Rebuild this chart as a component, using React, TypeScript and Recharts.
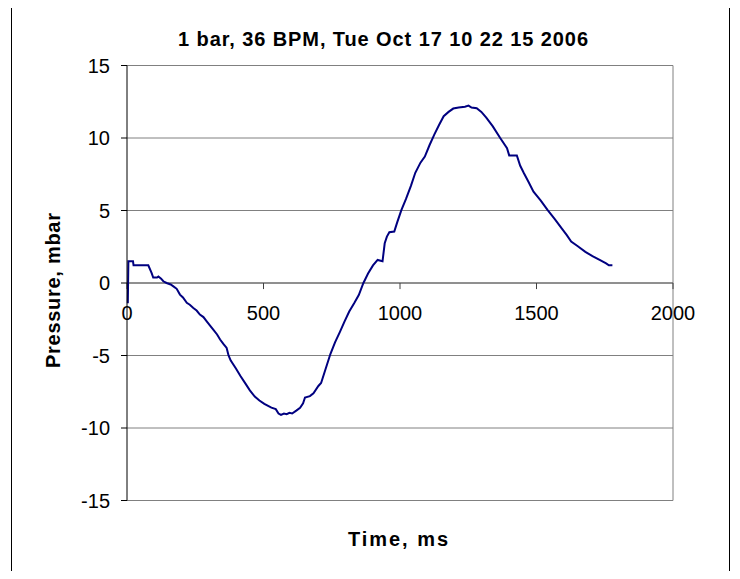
import { CartesianGrid, Line, LineChart, ReferenceLine, XAxis, YAxis } from "recharts";

const times = [
  3, 5, 22, 24, 78, 90, 96, 110, 115, 125, 133, 145, 160, 170, 182, 194, 205, 219, 230, 243,
  255, 267, 280, 292, 305, 316, 330, 341, 353, 365, 372, 380, 399, 415, 434, 450, 468, 485, 503, 529,
  545, 555, 564, 575, 585, 595, 605, 620, 634, 645, 652, 670, 683, 701, 711, 728, 745, 762, 780, 797,
  814, 832, 849, 866, 883, 901, 918, 936, 944, 952, 961, 979, 990, 1005, 1022, 1040, 1056, 1075, 1091, 1108,
  1126, 1143, 1160, 1178, 1195, 1215, 1238, 1251, 1262, 1281, 1298, 1316, 1340, 1367, 1392, 1400, 1428, 1440, 1454, 1470,
  1489, 1515, 1541, 1567, 1593, 1611, 1627, 1650, 1679, 1705, 1733, 1755, 1765, 1778,
];

const pressures = [
  -1.4, 1.5, 1.5, 1.22, 1.22, 0.7, 0.38, 0.38, 0.45, 0.3, 0.12, 0, -0.1, -0.23, -0.4, -0.8, -1.0, -1.37, -1.5, -1.72,
  -1.9, -2.18, -2.35, -2.64, -2.95, -3.21, -3.55, -3.9, -4.2, -4.48, -5.0, -5.35, -5.9, -6.4, -6.94, -7.4, -7.83, -8.1, -8.34, -8.6,
  -8.7, -9.0, -9.1, -9.0, -9.05, -8.95, -9.0, -8.8, -8.6, -8.3, -7.9, -7.8, -7.6, -7.1, -6.9, -5.9, -4.9, -4.1, -3.37, -2.65,
  -1.97, -1.4, -0.83, 0, 0.65, 1.21, 1.59, 1.5, 2.74, 3.2, 3.5, 3.55, 4.2, 5.03, 5.8, 6.7, 7.6, 8.3, 8.72, 9.5,
  10.25, 10.9, 11.5, 11.8, 12.03, 12.1, 12.15, 12.23, 12.1, 12.05, 11.8, 11.4, 10.8, 10.0, 9.3, 8.8, 8.8, 8.1, 7.57, 7.0,
  6.3, 5.7, 5.03, 4.4, 3.75, 3.3, 2.86, 2.55, 2.15, 1.85, 1.57, 1.35, 1.22, 1.22,
];

const xTicks = [0, 500, 1000, 1500, 2000];
const yTicks = [-15, -10, -5, 0, 5, 10, 15];

const title = "1 bar, 36 BPM, Tue Oct 17 10 22 15 2006";
const xLabel = "Time, ms";
const yLabel = "Pressure, mbar";

const data = times.map((t, i) => ({ t, p: pressures[i] }));

const font = "'Liberation Sans', Arial, sans-serif";

export default function App() {
  return (
    <div
      style={{
        position: "relative",
        width: 740,
        height: 579,
        margin: -8,
        overflow: "hidden",
        background: "#fff",
        fontFamily: font,
      }}
    >
      <div
        style={{
          position: "absolute",
          left: 11,
          top: 7,
          width: 717,
          height: 590,
          border: "1px solid #000",
        }}
      />
      <LineChart
        width={740}
        height={579}
        data={data}
        margin={{ top: 65.5, right: 67, bottom: 78.5, left: 0 }}
        style={{ position: "absolute", left: 0, top: 0 }}
      >
        <CartesianGrid vertical={false} stroke="#808080" />
        <XAxis dataKey="t" type="number" domain={[0, 2000]} ticks={xTicks} hide />
        <YAxis
          type="number"
          domain={[-15, 15]}
          ticks={yTicks}
          width={127}
          tickMargin={11}
          axisLine={{ stroke: "#000" }}
          tickLine={{ stroke: "#000" }}
          tick={{ fill: "#000", fontSize: 20, fontFamily: font }}
        />
        <ReferenceLine x={2000} stroke="#808080" />
        <ReferenceLine y={0} stroke="#606060" />
        {xTicks.map((t) => (
          <ReferenceLine
            key={t}
            segment={[
              { x: t, y: 0 },
              { x: t, y: -0.42 },
            ]}
            stroke="#404040"
            label={{
              value: String(t),
              position: "bottom",
              offset: 17,
              fill: "#000",
              fontSize: 20,
              fontFamily: font,
            }}
          />
        ))}
        <Line
          dataKey="p"
          type="linear"
          stroke="#000080"
          strokeWidth={2}
          dot={false}
          isAnimationActive={false}
        />
      </LineChart>
      <svg
        width={740}
        height={579}
        style={{ position: "absolute", left: 0, top: 0, pointerEvents: "none" }}
      >
        <text
          x={383}
          y={46}
          textAnchor="middle"
          fontSize={20}
          fontWeight="bold"
          fontFamily={font}
          textLength={410}
          lengthAdjust="spacing"
        >
          {title}
        </text>
        <text
          x={398}
          y={546}
          textAnchor="middle"
          fontSize={20}
          fontWeight="bold"
          fontFamily={font}
          textLength={100}
          lengthAdjust="spacing"
        >
          {xLabel}
        </text>
        <text
          x={60}
          y={290.5}
          transform="rotate(-90 60 290.5)"
          textAnchor="middle"
          fontSize={20}
          fontWeight="bold"
          fontFamily={font}
          textLength={155}
          lengthAdjust="spacing"
        >
          {yLabel}
        </text>
      </svg>
    </div>
  );
}
